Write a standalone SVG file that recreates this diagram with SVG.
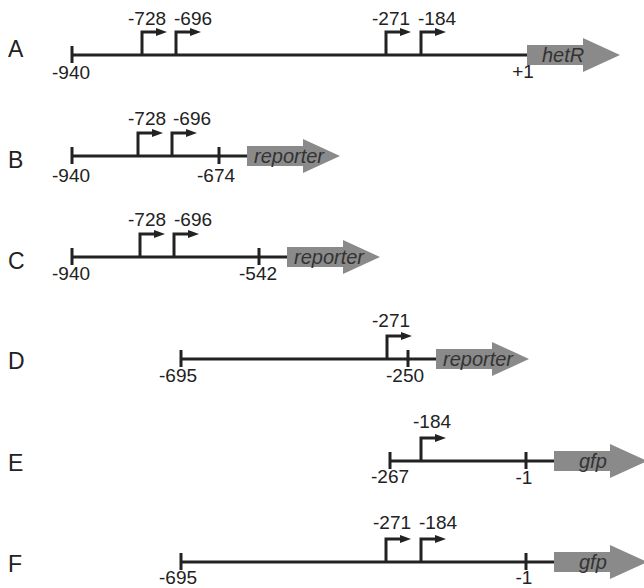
<svg xmlns="http://www.w3.org/2000/svg" width="644" height="588" viewBox="0 0 644 588">
<defs>
<style>
text{font-family:"Liberation Sans",Arial,sans-serif;fill:#222}
.row{font-size:23px}
.num{font-size:19px;text-anchor:middle}
.gene{font-size:20px;font-style:italic;fill:#333}
.ln{stroke:#222;stroke-width:3;fill:none}
.head{fill:#222}
.gbox{fill:#8a8a8a}
</style>
<g id="gene" >
<path class="gbox" d="M0,-10 H56 V-17 L93,0 L56,17 V10 H0 Z"/>
</g>
<g id="prom">
<path class="ln" d="M0,0 V-23 H15"/>
<path class="head" d="M14,-27 L25,-23 L14,-19 Z"/>
</g>
<path id="tick" class="ln" d="M0,-9 V8"/>
</defs>

<g id="connectors">
<path class="ln" d="M72,55 H527"/>
<path class="ln" d="M72,156 H247"/>
<path class="ln" d="M72,257 H287"/>
<path class="ln" d="M181,359 H436"/>
<path class="ln" d="M390,461 H554"/>
<path class="ln" d="M181,562 H554"/>
</g>

<g id="rowA">
<text class="row" x="8" y="57">A</text>
<use href="#tick" x="72" y="55"/>
<use href="#prom" x="142" y="55"/>
<use href="#prom" x="176" y="55"/>
<use href="#prom" x="386" y="55"/>
<use href="#prom" x="421" y="55"/>
<use href="#gene" x="527" y="55"/>
<text class="gene" x="542" y="62">hetR</text>
<text class="num" x="147" y="25">-728</text>
<text class="num" x="193" y="25">-696</text>
<text class="num" x="391" y="25">-271</text>
<text class="num" x="437" y="25">-184</text>
<text class="num" x="71" y="79">-940</text>
<text class="num" x="523" y="78">+1</text>
</g>

<g id="rowB">
<text class="row" x="8" y="168">B</text>
<use href="#tick" x="72" y="156"/>
<use href="#prom" x="138" y="156"/>
<use href="#prom" x="172" y="156"/>
<use href="#tick" x="219" y="156"/>
<use href="#gene" x="247" y="156"/>
<text class="gene" x="254" y="163">reporter</text>
<text class="num" x="147" y="125">-728</text>
<text class="num" x="192" y="125">-696</text>
<text class="num" x="71" y="182">-940</text>
<text class="num" x="216" y="182">-674</text>
</g>

<g id="rowC">
<text class="row" x="8" y="269">C</text>
<use href="#tick" x="72" y="257"/>
<use href="#prom" x="140" y="257"/>
<use href="#prom" x="174" y="257"/>
<use href="#tick" x="259" y="257"/>
<use href="#gene" x="287" y="257"/>
<text class="gene" x="294" y="264">reporter</text>
<text class="num" x="147" y="226">-728</text>
<text class="num" x="193" y="226">-696</text>
<text class="num" x="71" y="280">-940</text>
<text class="num" x="258" y="280">-542</text>
</g>

<g id="rowD">
<text class="row" x="8" y="369">D</text>
<use href="#tick" x="181" y="359"/>
<use href="#prom" x="387" y="359"/>
<use href="#tick" x="408" y="359"/>
<use href="#gene" x="436" y="359"/>
<text class="gene" x="443" y="366">reporter</text>
<text class="num" x="391" y="327">-271</text>
<text class="num" x="178" y="382">-695</text>
<text class="num" x="405" y="382">-250</text>
</g>

<g id="rowE">
<text class="row" x="8" y="471">E</text>
<use href="#tick" x="390" y="461"/>
<use href="#prom" x="421" y="461"/>
<use href="#tick" x="526" y="461"/>
<use href="#gene" x="554" y="461"/>
<text class="gene" x="579" y="468">gfp</text>
<text class="num" x="432" y="428">-184</text>
<text class="num" x="390" y="483">-267</text>
<text class="num" x="524" y="484">-1</text>
</g>

<g id="rowF">
<text class="row" x="8" y="572">F</text>
<use href="#tick" x="181" y="562"/>
<use href="#prom" x="386" y="562"/>
<use href="#prom" x="421" y="562"/>
<use href="#tick" x="526" y="562"/>
<use href="#gene" x="554" y="562"/>
<text class="gene" x="579" y="569">gfp</text>
<text class="num" x="392" y="529">-271</text>
<text class="num" x="438" y="529">-184</text>
<text class="num" x="178" y="584">-695</text>
<text class="num" x="524" y="584">-1</text>
</g>
</svg>
